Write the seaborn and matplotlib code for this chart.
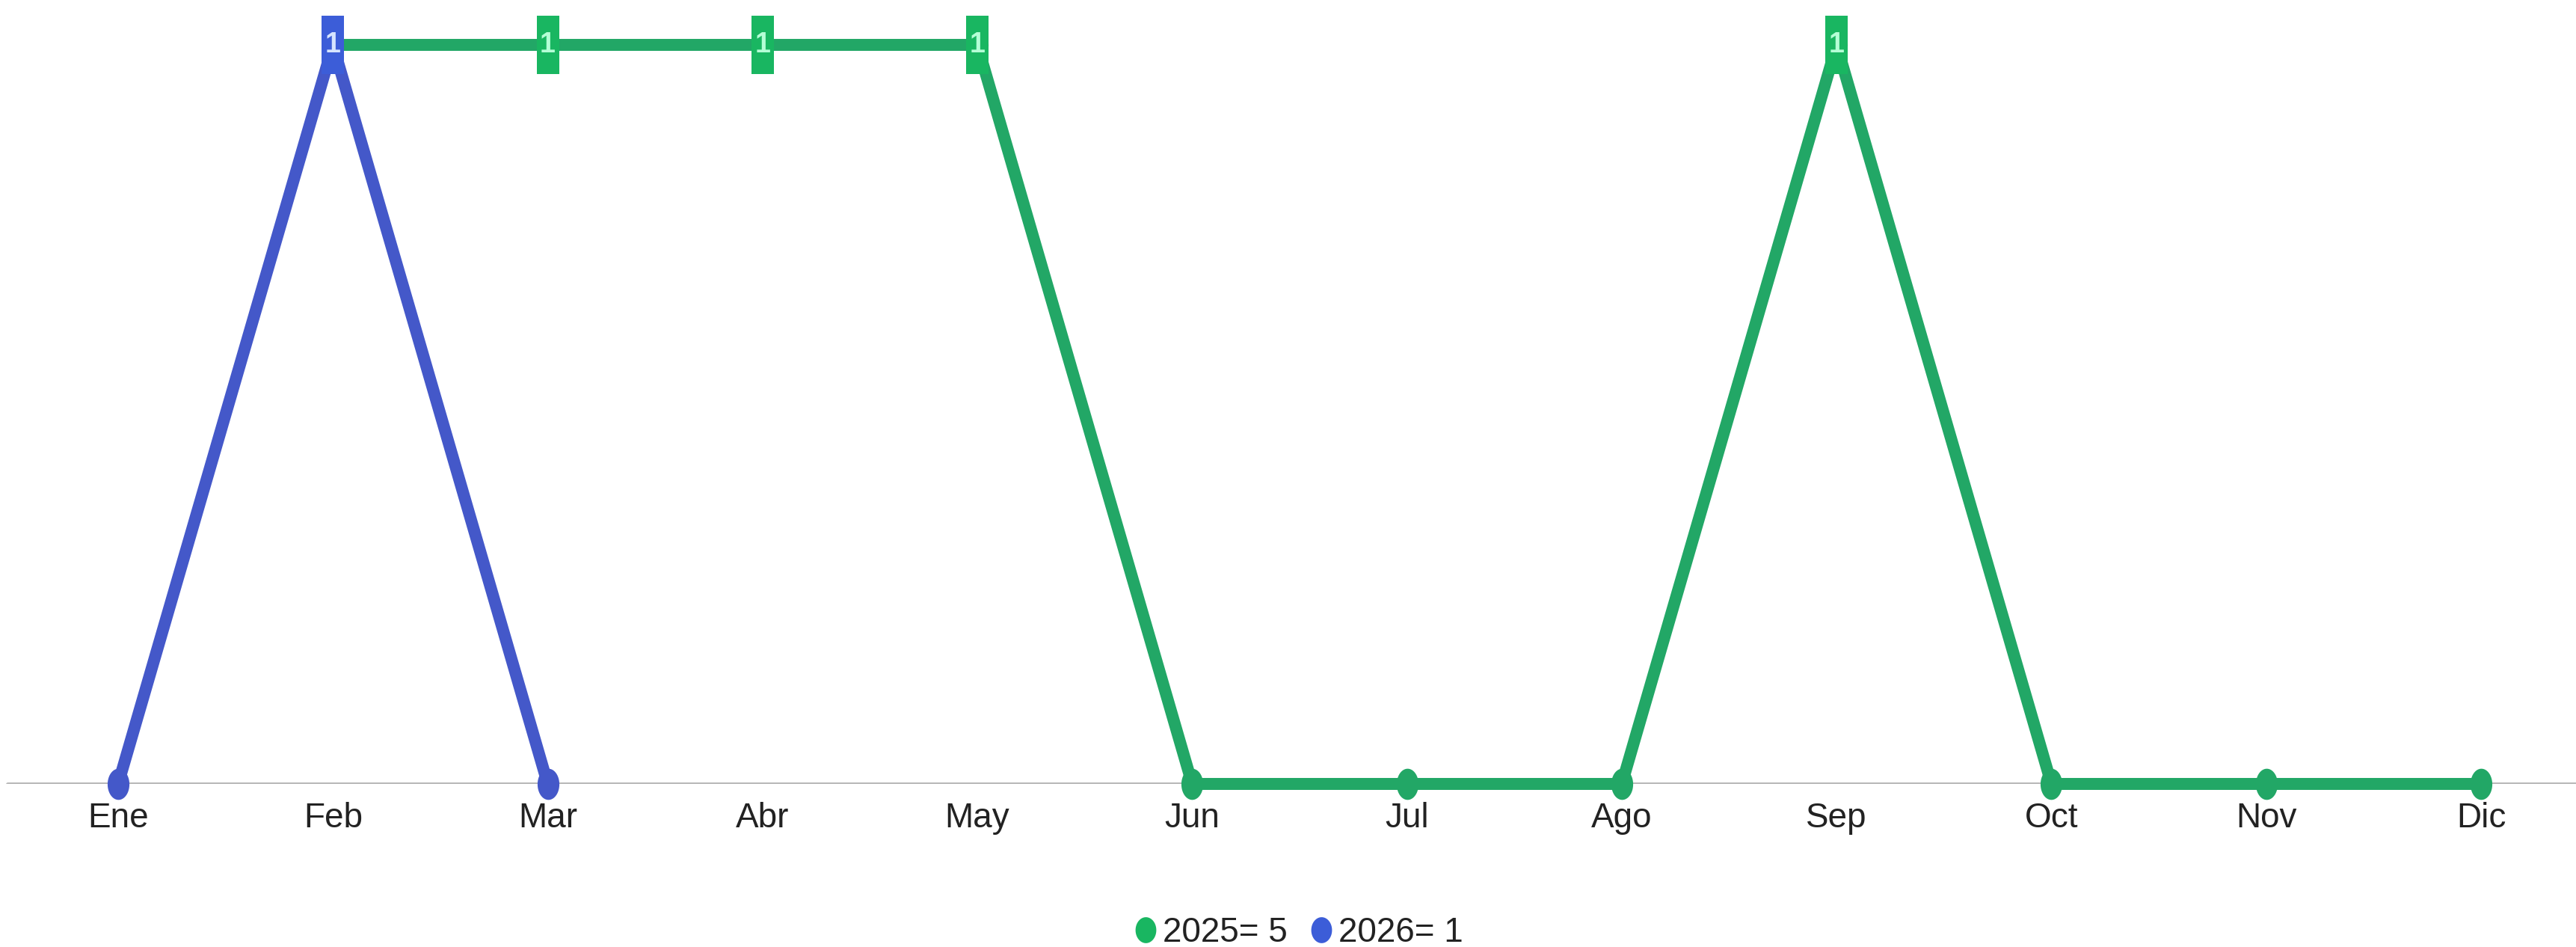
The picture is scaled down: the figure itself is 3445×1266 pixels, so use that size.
import numpy as np
import pandas as pd
import matplotlib
matplotlib.use("Agg")
import matplotlib.pyplot as plt
from matplotlib.lines import Line2D
import seaborn as sns

# ---------------- data ----------------
months = ["Ene", "Feb", "Mar", "Abr", "May", "Jun", "Jul", "Ago", "Sep", "Oct", "Nov", "Dic"]
values_2025 = [np.nan, 1, 1, 1, 1, 0, 0, 0, 1, 0, 0, 0]
values_2026 = [0, 1, 0, np.nan, np.nan, np.nan, np.nan, np.nan, np.nan, np.nan, np.nan, np.nan]
series_names = ["2025", "2026"]
legend_labels = ["2025= 5", "2026= 1"]

# ---------------- style ----------------
sns.set_theme(style="white")
plt.rcParams["font.family"] = ["Liberation Sans", "DejaVu Sans"]

line_colors = {"2025": "#22a766", "2026": "#4458c9"}
box_colors = {"2025": "#19b661", "2026": "#3c5dd8"}
label_colors = {"2025": "#b5ffd6", "2026": "#d6e4ff"}

W, H = 3445, 1266
fig = plt.figure(figsize=(W / 100, H / 100), dpi=100)
y_base = (H - 1048) / H
y_top = (H - 60) / H
ax = fig.add_axes([0, y_base, 1, y_top - y_base])

# ellipse marker (vertically stretched)
t = np.linspace(0, 2 * np.pi, 60)
ellipse = np.column_stack([0.7 * np.cos(t), np.sin(t)])
ellipse_leg = np.column_stack([0.8 * np.cos(t), np.sin(t)])
rect = np.array([[-0.38, -1], [0.38, -1], [0.38, 1], [-0.38, 1], [-0.38, -1]])

data = {"2025": values_2025, "2026": values_2026}
x_idx = np.arange(len(months))

# baseline
ax.axhline(0, xmin=10 / W, xmax=1, color="#b5b5b5", lw=3.5, zorder=1)

z = 2
for name in series_names:
    df = pd.DataFrame({"x": x_idx, "value": data[name]}).dropna()
    sns.lineplot(data=df, x="x", y="value", color=line_colors[name], linewidth=11.5,
                 marker=ellipse, markersize=30, markeredgewidth=0,
                 ax=ax, legend=False, zorder=z, clip_on=False)
    pos = df[df["value"] > 0]
    ax.plot(pos["x"], pos["value"], linestyle="none", marker=rect, markersize=56,
            markeredgewidth=0, color=box_colors[name], zorder=z + 1, clip_on=False)
    for xi, yi in zip(pos["x"], pos["value"]):
        ax.text(xi, yi, f"{int(yi)}", ha="center", va="center", fontsize=27,
                fontweight="bold", color=label_colors[name], zorder=z + 2)
    z += 3

ax.set_xlim(-158 / 287.3, 11 + (W - 3318) / 287.3)
ax.set_ylim(0, 1)
ax.set_xticks(x_idx)
ax.set_xticklabels(months)
ax.tick_params(axis="x", length=0, pad=17, labelsize=33, colors="#222222")
ax.set_yticks([])
ax.set_xlabel("")
ax.set_ylabel("")
for s in ax.spines.values():
    s.set_visible(False)
ax.patch.set_alpha(0)

handles = [Line2D([], [], linestyle="none", marker=ellipse_leg, markersize=25,
                  markeredgewidth=0, color=box_colors[n]) for n in series_names]
fig.legend(handles, legend_labels, loc="center", bbox_to_anchor=(0.503, 0.015),
           ncol=2, frameon=False, handletextpad=0.0, columnspacing=0.5,
           handlelength=1.0, fontsize=33, labelcolor="#222222")

fig.savefig("out.png", dpi=100)
